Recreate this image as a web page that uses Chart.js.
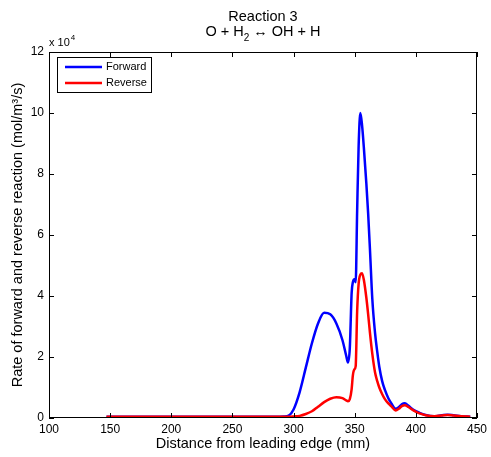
<!DOCTYPE html>
<html>
<head>
<meta charset="utf-8">
<script src="https://cdn.jsdelivr.net/npm/chart.js@4"></script>
<style>
  html, body { margin: 0; padding: 0; background: #fff; }
  #wrap { width: 491px; height: 457px; }
</style>
</head>
<body>
<div id="wrap"><canvas id="chart" width="491" height="457"></canvas></div>
<script>
// values, y in units of 1e4 mol/m^3/s
const distance = [147, 200, 250, 285, 292, 296, 300, 305, 310, 315, 320, 325, 330, 335, 340, 343, 344.5, 346, 347.5, 348.5, 349.8, 350.8, 352, 353.2, 354.6, 356, 357.6, 359.5, 361, 362.5, 364.4, 366.6, 368.5, 370.1, 372.5, 374.7, 377.5, 380, 383.5, 386, 388.5, 391, 394, 398, 403, 408, 415, 421, 426, 431, 437, 444.5];
const forward = [0.04, 0.04, 0.04, 0.04, 0.05, 0.08, 0.28, 0.85, 1.65, 2.45, 3.1, 3.45, 3.4, 3.1, 2.55, 2.05, 1.82, 2.3, 4.1, 4.45, 4.55, 4.45, 6.8, 8.9, 10.0, 9.6, 8.8, 7.7, 6.7, 5.5, 3.9, 2.8, 2.15, 1.68, 1.2, 0.92, 0.65, 0.48, 0.3, 0.35, 0.45, 0.48, 0.4, 0.27, 0.17, 0.1, 0.06, 0.09, 0.11, 0.09, 0.06, 0.04];
const reverse = [0.04, 0.04, 0.04, 0.04, 0.04, 0.04, 0.05, 0.07, 0.13, 0.22, 0.37, 0.52, 0.63, 0.68, 0.65, 0.58, 0.55, 0.62, 0.95, 1.4, 1.6, 1.7, 3.5, 4.4, 4.7, 4.75, 4.5, 3.95, 3.4, 2.78, 2.1, 1.5, 1.2, 1.0, 0.78, 0.62, 0.48, 0.38, 0.25, 0.3, 0.39, 0.42, 0.36, 0.25, 0.15, 0.09, 0.06, 0.08, 0.1, 0.08, 0.06, 0.04];
const seriesNames = ["Forward", "Reverse"];
const xTicks = [100, 150, 200, 250, 300, 350, 400, 450];
const yTicks = [0, 2, 4, 6, 8, 10, 12];

const FONT = "'Liberation Sans', Arial, Helvetica, sans-serif";

function pts(ys) {
    return distance.map((d, i) => ({ x: d, y: ys[i] }));
}

// box, inward ticks, legend, titles - matlab look
const matlabDecor = {
    id: "matlabDecor",
    afterDraw(chart) {
        const ctx = chart.ctx;
        const a = chart.chartArea;
        const xs = chart.scales.x, ys = chart.scales.y;
        ctx.save();
        ctx.strokeStyle = "#000";
        ctx.lineWidth = 1;
        ctx.strokeRect(a.left + 0.5, a.top + 0.5, a.right - a.left - 1, a.bottom - a.top - 1);
        ctx.beginPath();
        xTicks.forEach(v => {
            const px = Math.round(xs.getPixelForValue(v)) + 0.5;
            ctx.moveTo(px, a.bottom); ctx.lineTo(px, a.bottom - 5);
            ctx.moveTo(px, a.top); ctx.lineTo(px, a.top + 5);
        });
        yTicks.forEach(v => {
            const py = Math.round(ys.getPixelForValue(v)) + 0.5;
            ctx.moveTo(a.left, py); ctx.lineTo(a.left + 5, py);
            ctx.moveTo(a.right, py); ctx.lineTo(a.right - 5, py);
        });
        ctx.stroke();

        // legend
        ctx.fillStyle = "#fff";
        ctx.fillRect(57.5, 57.5, 94, 35);
        ctx.strokeRect(57.5, 57.5, 94, 35);
        const colors = ["#0000ff", "#ff0000"];
        ctx.font = "11px " + FONT;
        ctx.textBaseline = "middle";
        seriesNames.forEach((name, i) => {
            const y = 67 + i * 16;
            ctx.strokeStyle = colors[i];
            ctx.lineWidth = 2.5;
            ctx.beginPath();
            ctx.moveTo(65, y); ctx.lineTo(102, y);
            ctx.stroke();
            ctx.fillStyle = "#000";
            ctx.textAlign = "left";
            ctx.fillText(name, 106, y);
        });

        // title
        const cx = (a.left + a.right) / 2;
        ctx.fillStyle = "#000";
        ctx.textBaseline = "alphabetic";
        ctx.font = "14.5px " + FONT;
        ctx.textAlign = "center";
        ctx.fillText("Reaction 3", cx, 21);
        const p1 = "O + H", p3 = " \u2194 OH + H";
        const w1 = ctx.measureText(p1).width, w3 = ctx.measureText(p3).width;
        ctx.font = "10px " + FONT;
        const w2 = ctx.measureText("2").width;
        let x0 = cx - (w1 + w2 + w3) / 2;
        ctx.textAlign = "left";
        ctx.font = "14.5px " + FONT;
        ctx.fillText(p1, x0, 36);
        ctx.font = "10px " + FONT;
        ctx.fillText("2", x0 + w1, 41);
        ctx.font = "14.5px " + FONT;
        ctx.fillText(p3, x0 + w1 + w2, 36);

        // exponent
        ctx.font = "11px " + FONT;
        ctx.fillText("x 10", 49, 46);
        const wx = ctx.measureText("x 10").width;
        ctx.font = "8px " + FONT;
        ctx.fillText("4", 49 + wx + 1, 40);
        ctx.restore();
    }
};

const ctx = document.getElementById("chart").getContext("2d");
new Chart(ctx, {
    type: "line",
    data: {
        datasets: [
            {
                label: seriesNames[0],
                data: pts(forward),
                borderColor: "#0000ff",
                borderWidth: 2.5,
                pointRadius: 0,
                cubicInterpolationMode: "monotone",
                fill: false,
                order: 2
            },
            {
                label: seriesNames[1],
                data: pts(reverse),
                borderColor: "#ff0000",
                borderWidth: 2.5,
                pointRadius: 0,
                cubicInterpolationMode: "monotone",
                fill: false,
                order: 1
            }
        ]
    },
    options: {
        responsive: false,
        animation: false,
        events: [],
        layout: { padding: { top: 52, right: 12, left: 0, bottom: 0 } },
        plugins: {
            legend: { display: false },
            title: { display: false },
            tooltip: { enabled: false }
        },
        scales: {
            x: {
                type: "linear",
                min: 100,
                max: 450,
                afterBuildTicks: s => { s.ticks = xTicks.map(v => ({ value: v })); },
                afterFit: s => { s.height = 39; },
                grid: { display: false, drawTicks: false },
                border: { display: false },
                ticks: { color: "#000", font: { family: FONT, size: 12 }, padding: 4, maxRotation: 0 },
                title: {
                    display: true,
                    text: "Distance from leading edge (mm)",
                    color: "#000",
                    font: { family: FONT, size: 14.5 },
                    padding: { top: 0, bottom: 4 }
                }
            },
            y: {
                min: 0,
                max: 12,
                afterBuildTicks: s => { s.ticks = yTicks.map(v => ({ value: v })); },
                afterFit: s => { s.width = 49; },
                grid: { display: false, drawTicks: false },
                border: { display: false },
                ticks: { color: "#000", font: { family: FONT, size: 12 }, padding: 5 },
                title: {
                    display: true,
                    text: "Rate of forward and reverse reaction (mol/m\u00b3/s)",
                    color: "#000",
                    font: { family: FONT, size: 14.5 },
                    padding: { top: 9, bottom: 0 }
                }
            }
        }
    },
    plugins: [matlabDecor]
});
</script>
</body>
</html>
